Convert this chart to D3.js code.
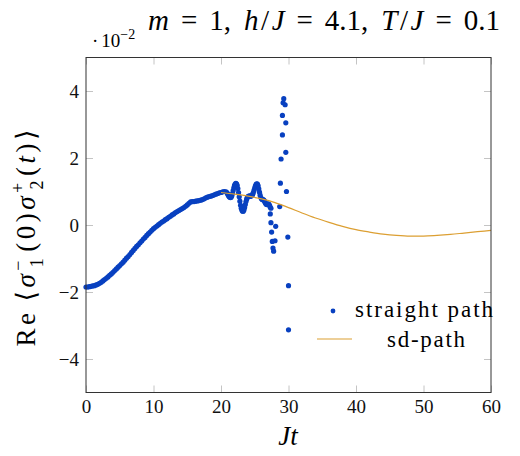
<!DOCTYPE html>
<html>
<head>
<meta charset="utf-8">
<script src="https://cdn.jsdelivr.net/npm/d3@7"></script>
<style>
  body { margin: 0; background: #fff; }
  svg { display: block; }
  svg text { font-family: "Liberation Serif", "Times New Roman", Tinos, "DejaVu Serif", serif; }
</style>
</head>
<body>
<svg id="chart"></svg>
<script>
const width = 520;
const height = 456;

// tick labels
const xTicks = [0, 10, 20, 30, 40, 50, 60];
const yTicks = [-4, -2, 0, 2, 4];

// straight path (values in units of 1e-2)
const straightT = [
  0, 0.25, 0.5, 0.75, 1, 1.25, 1.5, 1.75, 2, 2.25, 2.5, 2.75, 3, 3.25, 3.5, 3.75,
  4, 4.25, 4.5, 4.75, 5, 5.25, 5.5, 5.75, 6, 6.25, 6.5, 6.75, 7, 7.25, 7.5, 7.75,
  8, 8.25, 8.5, 8.75, 9, 9.25, 9.5, 9.75, 10, 10.25, 10.5, 10.75, 11, 11.25, 11.5, 11.75,
  12, 12.25, 12.5, 12.75, 13, 13.25, 13.5, 13.75, 14, 14.25, 14.5, 14.75, 15, 15.25, 15.5, 15.75,
  16, 16.25, 16.5, 16.75, 17, 17.25, 17.5, 17.75, 18, 18.25, 18.5, 18.75, 19, 19.25, 19.5, 19.75,
  20, 20.25, 20.5, 20.75,
  20.9, 21.0, 21.1, 21.2, 21.3, 21.4, 21.5, 21.6, 21.7, 21.8, 21.9, 22.0, 22.1, 22.2, 22.3, 22.4,
  22.5, 22.6, 22.7, 22.8, 22.9, 23.0, 23.1, 23.2, 23.3, 23.4, 23.5, 23.6, 23.7, 23.8, 23.9, 24.0,
  24.1, 24.2, 24.3, 24.4, 24.5, 24.6, 24.7, 24.8, 24.9, 25.0, 25.1, 25.2, 25.3, 25.4, 25.5, 25.6,
  25.7, 25.8, 25.9, 26.0, 26.1, 26.2, 26.3, 26.4, 26.5, 26.6, 26.7, 26.8, 26.9, 27.0, 27.1, 27.2,
  27.3, 27.4,
  27.3, 27.4, 27.5, 27.6, 27.7, 27.8, 28.0, 28.1, 28.7, 28.8, 28.9, 29.1, 29.1, 29.2, 29.3, 29.5,
  29.6, 29.6, 29.7, 29.9, 30.0, 30.0
];
const straightV = [
  -1.85, -1.85, -1.84, -1.83, -1.82, -1.81, -1.79, -1.77, -1.74, -1.71, -1.67, -1.63, -1.59, -1.55, -1.50, -1.46,
  -1.41, -1.36, -1.31, -1.26, -1.21, -1.16, -1.11, -1.05, -0.99, -0.94, -0.88, -0.82, -0.76, -0.70, -0.64, -0.59,
  -0.53, -0.48, -0.42, -0.37, -0.31, -0.26, -0.21, -0.16, -0.11, -0.07, -0.03, 0.01, 0.05, 0.09, 0.12, 0.16,
  0.19, 0.23, 0.26, 0.30, 0.33, 0.37, 0.40, 0.43, 0.46, 0.49, 0.52, 0.56, 0.60, 0.65, 0.69, 0.70,
  0.70, 0.71, 0.72, 0.73, 0.74, 0.76, 0.78, 0.81, 0.83, 0.85, 0.86, 0.88, 0.90, 0.92, 0.94, 0.96,
  0.97, 0.99, 1.00, 0.99,
  0.96, 0.92, 0.88, 0.85, 0.83, 0.82, 0.83, 0.87, 0.94, 1.03, 1.11, 1.18, 1.22, 1.24, 1.23, 1.18,
  1.09, 0.97, 0.84, 0.71, 0.59, 0.50, 0.44, 0.41, 0.41, 0.45, 0.52, 0.61, 0.70, 0.77, 0.82, 0.85,
  0.86, 0.86, 0.86, 0.86, 0.87, 0.89, 0.92, 0.97, 1.04, 1.11, 1.17, 1.21, 1.23, 1.22, 1.17, 1.08,
  0.98, 0.89, 0.82, 0.78, 0.76, 0.76, 0.75, 0.73, 0.69, 0.65, 0.62, 0.61, 0.62, 0.63, 0.62, 0.58,
  0.53, 0.50,
  0.33, 0.07, -0.21, -0.49, -0.69, -0.78, -0.47, -0.04, 0.55, 1.25, 1.97, 2.69, 3.27, 3.65, 3.77, 3.59,
  3.05, 2.17, 1.00, -0.36, -1.81, -3.13
];

// steepest-descent path
const sdT = [20, 22, 24, 26, 28, 30, 32, 34, 36, 38, 40, 42, 44, 46, 48, 50, 52, 54, 56, 58, 60];
const sdV = [0.97, 0.92, 0.86, 0.78, 0.67, 0.52, 0.36, 0.21, 0.08, -0.04, -0.14, -0.21, -0.27, -0.31, -0.33, -0.33, -0.31, -0.28, -0.24, -0.20, -0.16];

const blue = "#0840c0";
const orange = "#dc9f32";

const plotLeft = 86, plotRight = 491, plotTop = 57.5, plotBottom = 392.5;

const svg = d3.select("#chart")
  .attr("width", width)
  .attr("height", height);

const xScale = d3.scaleLinear().domain([0, 60]).range([plotLeft, plotRight]);
const yScale = d3.scaleLinear().domain([-5, 5]).range([plotBottom, plotTop]);

// inside ticks on all four sides
function styleAxis(g) {
  g.select(".domain").remove();
  g.selectAll(".tick line").attr("stroke", "#c4c4c4");
  g.selectAll(".tick text").attr("font-size", 19).attr("fill", "#111");
}

svg.append("g")
  .attr("transform", `translate(0, ${plotBottom})`)
  .call(d3.axisBottom(xScale).tickValues(xTicks).tickSize(-7).tickPadding(7).tickFormat(d3.format("d")))
  .call(styleAxis);

svg.append("g")
  .attr("transform", `translate(0, ${plotTop})`)
  .call(d3.axisTop(xScale).tickValues(xTicks).tickSize(-7).tickFormat(""))
  .call(styleAxis);

svg.append("g")
  .attr("transform", `translate(${plotLeft}, 0)`)
  .call(d3.axisLeft(yScale).tickValues(yTicks).tickSize(-7).tickPadding(7).tickFormat(d3.format("d")))
  .call(styleAxis);

svg.append("g")
  .attr("transform", `translate(${plotRight}, 0)`)
  .call(d3.axisRight(yScale).tickValues(yTicks).tickSize(-7).tickFormat(""))
  .call(styleAxis);

const straight = straightT.map((t, i) => [t, straightV[i]]);
const sd = sdT.map((t, i) => [t, sdV[i]]);

svg.append("g")
  .selectAll("circle")
  .data(straight)
  .enter()
  .append("circle")
  .attr("cx", d => xScale(d[0]))
  .attr("cy", d => yScale(d[1]))
  .attr("r", 2.6)
  .attr("fill", blue);

const line = d3.line()
  .curve(d3.curveMonotoneX)
  .x(d => xScale(d[0]))
  .y(d => yScale(d[1]));

svg.append("path")
  .datum(sd)
  .attr("d", line)
  .attr("fill", "none")
  .attr("stroke", orange)
  .attr("stroke-width", 1.2);

// frame
svg.append("rect")
  .attr("x", plotLeft)
  .attr("y", plotTop)
  .attr("width", plotRight - plotLeft)
  .attr("height", plotBottom - plotTop)
  .attr("fill", "none")
  .attr("stroke", "#333")
  .attr("stroke-width", 1);

// legend
const legend = svg.append("g");
legend.append("circle").attr("cx", 333).attr("cy", 311).attr("r", 2.4).attr("fill", blue);
legend.append("line")
  .attr("x1", 317).attr("x2", 352).attr("y1", 339).attr("y2", 339)
  .attr("stroke", orange).attr("stroke-width", 1.2);
legend.append("text")
  .attr("x", 424).attr("y", 317)
  .attr("text-anchor", "middle")
  .attr("font-size", 23)
  .attr("textLength", 138).attr("lengthAdjust", "spacing")
  .text("straight path");
legend.append("text")
  .attr("x", 426).attr("y", 347)
  .attr("text-anchor", "middle")
  .attr("font-size", 23)
  .attr("textLength", 78).attr("lengthAdjust", "spacing")
  .text("sd-path");

// x label
svg.append("text")
  .attr("x", 288).attr("y", 445)
  .attr("text-anchor", "middle")
  .attr("font-size", 27)
  .attr("font-style", "italic")
  .text("Jt");

// y label
const ylab = svg.append("text")
  .attr("transform", "translate(35, 238) rotate(-90)")
  .attr("text-anchor", "middle")
  .attr("font-size", 27)
  .attr("textLength", 217).attr("lengthAdjust", "spacing");
ylab.append("tspan").text("Re");
ylab.append("tspan").attr("dx", 8).text("\u27E8");
ylab.append("tspan").attr("font-style", "italic").text("σ");
ylab.append("tspan").attr("font-size", 18).attr("dy", -11).text("\u2212");
ylab.append("tspan").attr("font-size", 18).attr("dx", -10).attr("dy", 19).text("1");
ylab.append("tspan").attr("dx", 3).attr("dy", -8).text("(0)");
ylab.append("tspan").attr("font-style", "italic").text("σ");
ylab.append("tspan").attr("font-size", 18).attr("dy", -11).text("+");
ylab.append("tspan").attr("font-size", 18).attr("dx", -10).attr("dy", 19).text("2");
ylab.append("tspan").attr("dx", 1).attr("dy", -8).text("(");
ylab.append("tspan").attr("font-style", "italic").text("t");
ylab.append("tspan").text(")\u27E9");

// title
const title = svg.append("text")
  .attr("x", 148).attr("y", 30)
  .attr("font-size", 29);
const parts = [
  ["m", true, 0], ["=", false, 12], ["1,", false, 12],
  ["h", true, 13], ["/", false, 2.5], ["J", true, 2.5], ["=", false, 12], ["4.1,", false, 12],
  ["T", true, 13], ["/", false, 2.5], ["J", true, 2.5], ["=", false, 12], ["0.1", false, 12]
];
parts.forEach(p => title.append("tspan")
  .attr("dx", p[2])
  .attr("font-style", p[1] ? "italic" : "normal")
  .text(p[0]));

// axis multiplier
const mult = svg.append("text").attr("x", 92).attr("y", 47).attr("font-size", 19);
mult.append("tspan").text("\u00B7");
mult.append("tspan").attr("dx", 3).text("10");
mult.append("tspan").attr("font-size", 14).attr("dy", -8).text("\u22122");
</script>
</body>
</html>
